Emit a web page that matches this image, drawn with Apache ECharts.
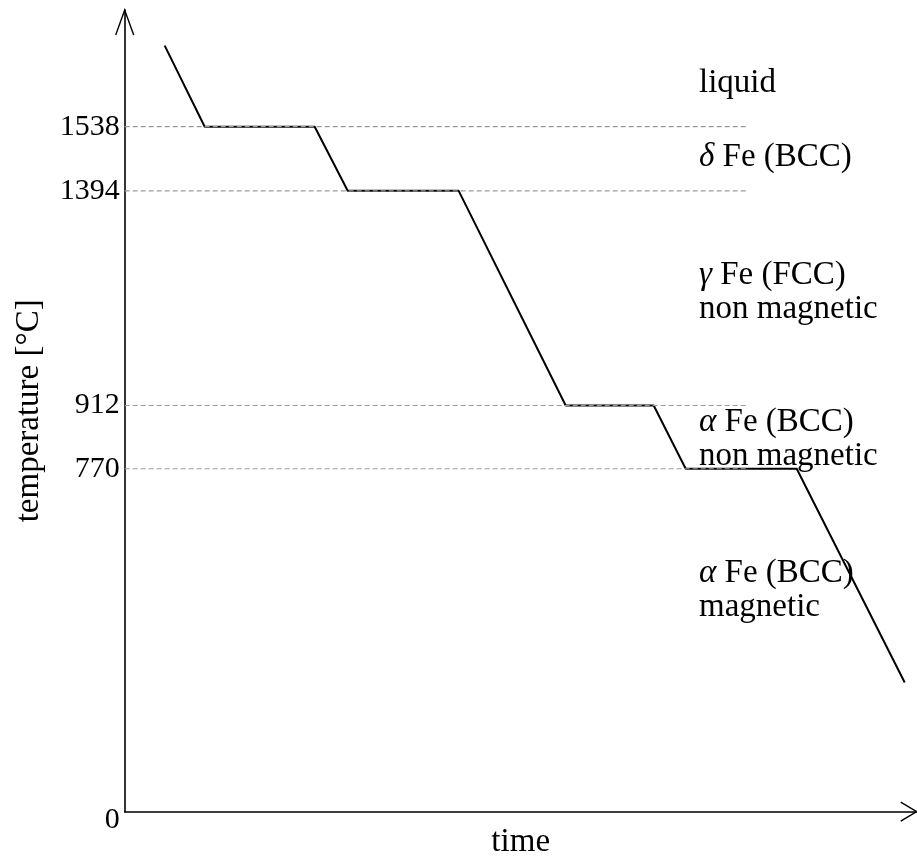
<!DOCTYPE html>
<html><head><meta charset="utf-8">
<script src="https://cdn.jsdelivr.net/npm/echarts@6/dist/echarts.min.js"></script>
<style>html,body{margin:0;padding:0;background:#fff}#c{width:917px;height:858px}</style>
</head><body><div id="c"></div>
<script>
// ---- data ----
const timeValues = [40, 80, 190, 223, 334, 441, 529, 561, 672, 780];
const temperatureValues = [1720, 1538, 1538, 1394, 1394, 912, 912, 770, 770, 290];
const transitionTemps = [1538, 1394, 912, 770];
const yTickValues = [0, 770, 912, 1394, 1538];
const refLineEnd = 623;
const regionLabels = ['liquid', '{i|δ} Fe (BCC)', '{i|γ} Fe (FCC)\nnon magnetic', '{i|α} Fe (BCC)\nnon magnetic', '{i|α} Fe (BCC)\nmagnetic'];
const regionLabelY = [83, 157, 292, 439, 590];

const FONT = 'Liberation Serif';
const LABEL_SIZE = 33;
const chart = echarts.init(document.getElementById('c'), null, {renderer: 'canvas'});

const lineData = timeValues.map((t, i) => [t, temperatureValues[i]]);
const refSeries = transitionTemps.map(t => ({
  type: 'line', data: [[0, t], [refLineEnd, t]], symbol: 'none', silent: true, z: 3,
  lineStyle: {color: '#9a9a9a', width: 1.2, type: [5, 3]}
}));

chart.setOption({
  animation: false,
  backgroundColor: '#fff',
  grid: {left: 124.7, right: 0.3, top: 10, bottom: 46.3, containLabel: false, outerBoundsMode: 'none'},
  xAxis: {
    type: 'value', min: 0, max: 792,
    axisLine: {show: true, lineStyle: {color: '#000', width: 1.6}},
    axisTick: {show: false}, axisLabel: {show: false}, splitLine: {show: false},
    name: 'time', nameLocation: 'middle', nameGap: 14,
    nameTextStyle: {fontFamily: FONT, fontSize: LABEL_SIZE, color: '#000'}
  },
  yAxis: {
    type: 'value', min: 0, max: 1800,
    axisLine: {show: true, lineStyle: {color: '#000', width: 1.6}},
    axisTick: {show: false}, splitLine: {show: false},
    axisLabel: {
      customValues: yTickValues, margin: 5, fontFamily: FONT, fontSize: 30, color: '#000',
      formatter: v => v === 0 ? '{z|0}' : String(v),
      rich: {z: {padding: [16, 0, 0, 0], fontFamily: FONT, fontSize: 30, color: '#000'}}
    },
    name: 'temperature [°C]', nameLocation: 'middle', nameGap: 79,
    nameTextStyle: {fontFamily: FONT, fontSize: LABEL_SIZE, color: '#000'}
  },
  series: [{
    type: 'line', data: lineData, symbol: 'none', z: 2,
    lineStyle: {color: '#000', width: 2}
  }].concat(refSeries)
});

const xEnd = chart.convertToPixel({gridIndex: 0}, [792, 0]);
const yEnd = chart.convertToPixel({gridIndex: 0}, [0, 1800]);
const arrowStyle = {stroke: '#000', lineWidth: 1.4, fill: null};
const graphics = [
  {type: 'polyline', shape: {points: [[yEnd[0] - 9, yEnd[1] + 25], [yEnd[0], yEnd[1]], [yEnd[0] + 9, yEnd[1] + 25]]}, style: arrowStyle, z: 10},
  {type: 'polyline', shape: {points: [[xEnd[0] - 16, xEnd[1] - 9.5], [xEnd[0], xEnd[1]], [xEnd[0] - 16, xEnd[1] + 9.5]]}, style: arrowStyle, z: 10}
];
regionLabels.forEach((txt, i) => {
  graphics.push({
    type: 'text', x: 699, y: regionLabelY[i], z: 10,
    style: {
      text: txt, fontFamily: FONT, fontSize: LABEL_SIZE, fill: '#000', lineHeight: 34,
      align: 'left', verticalAlign: 'middle',
      rich: {i: {fontStyle: 'italic', fontFamily: FONT, fontSize: LABEL_SIZE, fill: '#000'}}
    }
  });
});
chart.setOption({graphic: graphics});
</script>
</body></html>
